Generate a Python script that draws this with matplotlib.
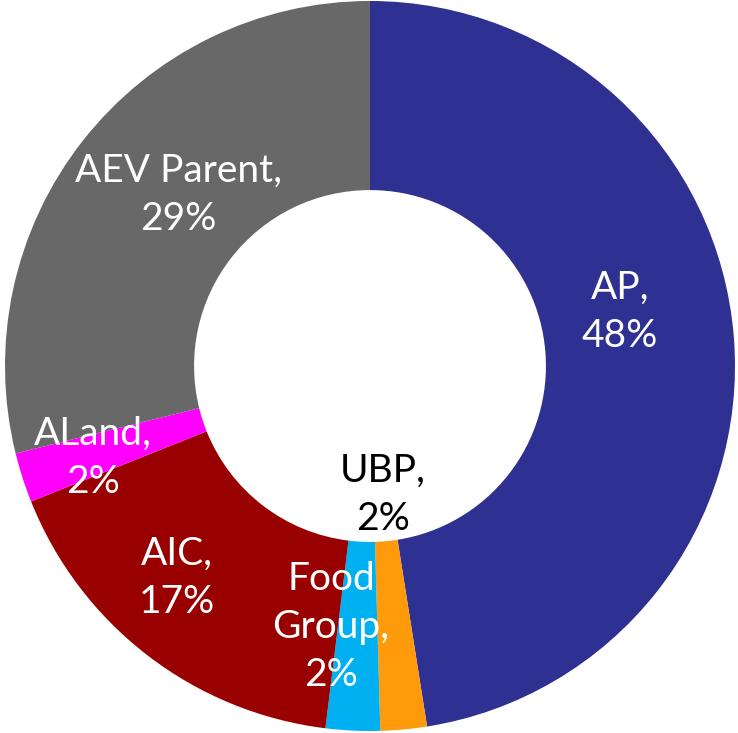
import matplotlib
matplotlib.use("Agg")
import matplotlib.pyplot as plt

# segment shares, clockwise from 12 o'clock
names = ["AP", "UBP", "Food\nGroup", "AIC", "ALand", "AEV Parent"]
shares = [47.5, 2.05, 2.4, 17.0, 2.2, 28.85]
pct_text = ["48%", "2%", "2%", "17%", "2%", "29%"]
colors = ["#2e3192", "#ff9a0a", "#00b0f0", "#990000", "#ff00ff", "#686868"]
text_colors = ["white", "black", "white", "white", "white", "white"]
# label centres (data units, pie radius = 1)
label_pos = [(0.685, 0.148), (0.036, -0.353), (-0.107, -0.715),
             (-0.53, -0.581), (-0.759, -0.252), (-0.526, 0.468)]

plt.rcParams['font.family'] = ['Lato', 'DejaVu Sans']

fig = plt.figure(figsize=(7.38, 7.33), dpi=100)
ax = fig.add_axes([0, 0, 1, 1])
ax.pie(shares, colors=colors, startangle=90, counterclock=False,
       radius=1.0, wedgeprops=dict(width=0.518, linewidth=0))

for name, pct, pos, tc in zip(names, pct_text, label_pos, text_colors):
    ax.text(pos[0], pos[1], name + ",\n" + pct, ha='center', va='center',
            color=tc, fontsize=28, linespacing=1.42)

R = 365.0
ax.set_aspect('auto')
ax.set_xlim(-370 / R, 368 / R)
ax.set_ylim(-367 / R, 366 / R)
ax.axis('off')

fig.savefig("out.png", dpi=100)
